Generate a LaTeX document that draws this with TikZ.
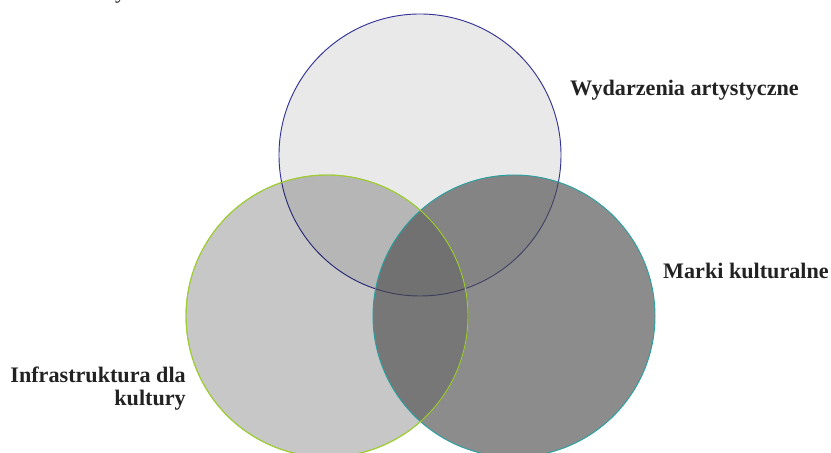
\documentclass[tikz,border=0pt]{standalone}
\usepackage{fontspec}
\setmainfont{Liberation Serif}
\definecolor{navyline}{RGB}{52,52,150}
\definecolor{limeline}{RGB}{158,204,52}
\definecolor{tealline}{RGB}{40,160,160}
\definecolor{darkset}{RGB}{75,75,75}
\definecolor{ink}{RGB}{34,34,34}

\begin{document}
\begin{tikzpicture}[x=0.03cm,y=0.03cm,
  set/.style={circle,minimum size=8.46cm,inner sep=0,fill=black,line width=.8pt},
  lbl/.style={font=\bfseries\fontsize{18.9}{19.6}\selectfont,text=ink,inner sep=0}]
  \useasboundingbox (0,0) rectangle (831,453);
  \clip (0,0) rectangle (831,453);
  \node[font=\fontsize{18.9}{19.6}\selectfont,text=ink,inner sep=0,anchor=base west] (cut) at (115,454) {y};
  \node[set,draw=navyline,fill opacity=.085] (art) at (420,298) {};
  \node[set,draw=limeline,fill opacity=.22] (infra) at (327,137) {};
  \node[set,draw=tealline,fill=darkset,fill opacity=.64] (marki) at (514,137) {};
  \draw[limeline,line width=.8pt] (infra) circle[radius=141];
  \node[lbl,anchor=west] (lart) at (570,363) {Wydarzenia artystyczne};
  \node[lbl,anchor=west] (lmarki) at (663,182) {Marki kulturalne};
  \node[lbl,anchor=east,align=right] (linfra) at (186,64) {Infrastruktura dla\\kultury};
\end{tikzpicture}
\end{document}
